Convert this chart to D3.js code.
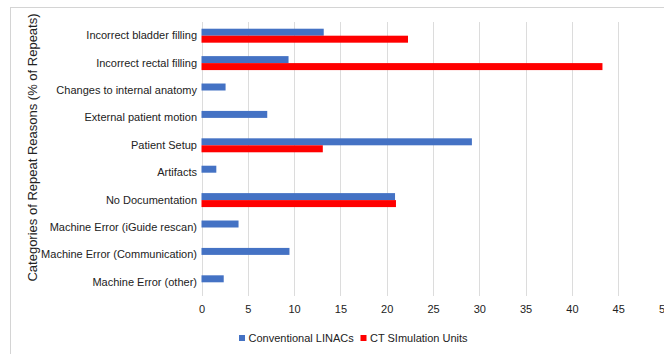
<!DOCTYPE html>
<html>
<head>
<meta charset="utf-8">
<script src="https://cdn.jsdelivr.net/npm/d3@7/dist/d3.min.js"></script>
<style>
  html, body { margin: 0; padding: 0; background: #fff; }
  svg { display: block; }
  text { font-family: "Liberation Sans", Arial, Helvetica, sans-serif; fill: #222; }
</style>
</head>
<body>
<svg id="chart" width="664" height="354"></svg>
<script>
// Repeat reasons and their share (% of repeats) for each unit type
const categories = [
  "Incorrect bladder filling",
  "Incorrect rectal filling",
  "Changes to internal anatomy",
  "External patient motion",
  "Patient Setup",
  "Artifacts",
  "No Documentation",
  "Machine Error (iGuide rescan)",
  "Machine Error (Communication)",
  "Machine Error (other)"
];
const seriesNames = ["Conventional LINACs", "CT SImulation Units"];
const linacValues = [13.2, 9.4, 2.6, 7.1, 29.2, 1.6, 20.9, 4.0, 9.5, 2.4];
const ctSimValues = [22.3, 43.3, 0, 0, 13.1, 0, 21.0, 0, 0, 0];
const seriesColors = ["#4472C4", "#FF0000"];
const xTicks = [0, 5, 10, 15, 20, 25, 30, 35, 40, 45, 50];
const yTitle = "Categories of Repeat Reasons (% of Repeats)";

const svg = d3.select("#chart");

// outer chart frame
svg.append("rect")
  .attr("x", 10.5).attr("y", 7.5)
  .attr("width", 700).attr("height", 400)
  .attr("fill", "none").attr("stroke", "#d4d4d4");

const plot = { left: 201.5, right: 664.5, top: 22, bottom: 296 };

const x = d3.scaleLinear().domain([0, 50]).range([plot.left, plot.right]);
const y = d3.scaleBand().domain(categories)
  .range([plot.top, plot.bottom]).paddingInner(0.49).paddingOuter(0.245);
const ySub = d3.scaleBand().domain(seriesNames).range([0, y.bandwidth()]);

// vertical gridlines
svg.append("g").selectAll("line").data(xTicks).join("line")
  .attr("x1", d => Math.round(x(d)) + 0.5).attr("x2", d => Math.round(x(d)) + 0.5)
  .attr("y1", plot.top).attr("y2", plot.bottom)
  .attr("stroke", "#dcdcdc").attr("stroke-width", 1);

// x axis tick labels
const xAxis = d3.axisBottom(x).tickValues(xTicks).tickSize(0).tickPadding(0);
const gx = svg.append("g").attr("transform", `translate(0,${plot.bottom + 9})`).call(xAxis);
gx.select(".domain").remove();
gx.selectAll("text")
  .style("font-family", "'Liberation Sans', Arial, sans-serif")
  .style("font-size", "11px").attr("fill", "#222");

// bars
const rows = categories.map((c, i) => ({ cat: c, vals: [linacValues[i], ctSimValues[i]] }));
const groups = svg.append("g").selectAll("g").data(rows).join("g")
  .attr("transform", d => `translate(0,${y(d.cat)})`);
groups.selectAll("rect")
  .data(d => d.vals.map((v, k) => ({ name: seriesNames[k], v, k })).filter(e => e.v > 0))
  .join("rect")
  .attr("x", x(0))
  .attr("y", d => ySub(d.name))
  .attr("width", d => x(d.v) - x(0))
  .attr("height", ySub.bandwidth())
  .attr("fill", d => seriesColors[d.k]);

// category labels
const yAxis = d3.axisLeft(y).tickSize(0).tickPadding(4);
const gy = svg.append("g").attr("transform", `translate(${plot.left - 0.5},0)`).call(yAxis);
gy.select(".domain").remove();
gy.selectAll("text")
  .style("font-family", "'Liberation Sans', Arial, sans-serif")
  .style("font-size", "11px").attr("fill", "#222");

// y axis title
svg.append("text")
  .attr("transform", `translate(37,${(12 + 283) / 2}) rotate(-90)`)
  .attr("text-anchor", "middle")
  .style("font-size", "13px")
  .text(yTitle);

// legend
const legend = svg.append("g").attr("transform", "translate(239,338)");
const legendX = [0, 121.5];
seriesNames.forEach((name, k) => {
  const g = legend.append("g").attr("transform", `translate(${legendX[k]},0)`);
  g.append("rect").attr("x", 0).attr("y", -3).attr("width", 6).attr("height", 6)
    .attr("fill", seriesColors[k]);
  g.append("text").attr("x", 9.5).attr("y", 0).attr("dy", "0.35em")
    .style("font-size", "11px").text(name);
});
</script>
</body>
</html>
